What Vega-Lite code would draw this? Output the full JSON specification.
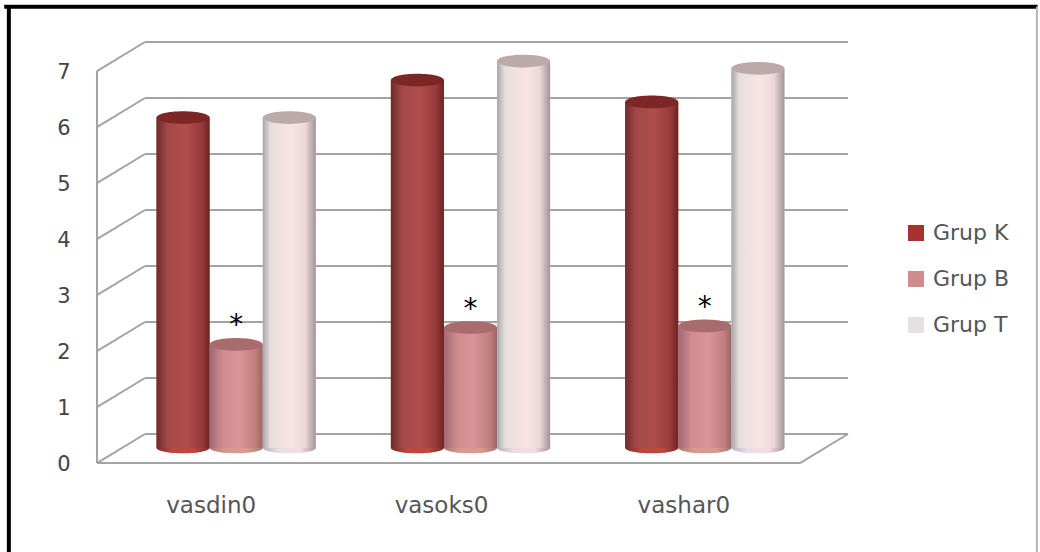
{
  "$schema": "https://vega.github.io/schema/vega-lite/v6.json",
  "width": 703,
  "height": 392,
  "autosize": "none",
  "padding": {"left": 119, "top": 56, "right": 218, "bottom": 104},
  "background": "white",
  "config": {"view": {"stroke": null}, "font": "DejaVu Sans"},
  "datasets": {
    "scores": [
      {"measure": "vasdin0", "group": "Grup K", "score": 5.9, "marked": false},
      {"measure": "vasdin0", "group": "Grup B", "score": 1.85, "marked": true},
      {"measure": "vasdin0", "group": "Grup T", "score": 5.9, "marked": false},
      {"measure": "vasoks0", "group": "Grup K", "score": 6.57, "marked": false},
      {"measure": "vasoks0", "group": "Grup B", "score": 2.15, "marked": true},
      {"measure": "vasoks0", "group": "Grup T", "score": 6.91, "marked": false},
      {"measure": "vashar0", "group": "Grup K", "score": 6.18, "marked": false},
      {"measure": "vashar0", "group": "Grup B", "score": 2.18, "marked": true},
      {"measure": "vashar0", "group": "Grup T", "score": 6.78, "marked": false}
    ],
    "walls": [
      {"part": "back", "x1": 0.111, "x2": 3.111, "y1": 0.25, "y2": 0.25},
      {"part": "back", "x1": 0.111, "x2": 3.111, "y1": 1.25, "y2": 1.25},
      {"part": "back", "x1": 0.111, "x2": 3.111, "y1": 2.25, "y2": 2.25},
      {"part": "back", "x1": 0.111, "x2": 3.111, "y1": 3.25, "y2": 3.25},
      {"part": "back", "x1": 0.111, "x2": 3.111, "y1": 4.25, "y2": 4.25},
      {"part": "back", "x1": 0.111, "x2": 3.111, "y1": 5.25, "y2": 5.25},
      {"part": "back", "x1": 0.111, "x2": 3.111, "y1": 6.25, "y2": 6.25},
      {"part": "back", "x1": 0.111, "x2": 3.111, "y1": 7.25, "y2": 7.25},
      {"part": "side", "x1": -0.094, "x2": 0.111, "y1": -0.27, "y2": 0.25},
      {"part": "side", "x1": -0.094, "x2": 0.111, "y1": 0.73, "y2": 1.25},
      {"part": "side", "x1": -0.094, "x2": 0.111, "y1": 1.73, "y2": 2.25},
      {"part": "side", "x1": -0.094, "x2": 0.111, "y1": 2.73, "y2": 3.25},
      {"part": "side", "x1": -0.094, "x2": 0.111, "y1": 3.73, "y2": 4.25},
      {"part": "side", "x1": -0.094, "x2": 0.111, "y1": 4.73, "y2": 5.25},
      {"part": "side", "x1": -0.094, "x2": 0.111, "y1": 5.73, "y2": 6.25},
      {"part": "side", "x1": -0.094, "x2": 0.111, "y1": 6.73, "y2": 7.25},
      {"part": "side", "x1": -0.094, "x2": -0.094, "y1": -0.27, "y2": 6.73},
      {"part": "side", "x1": 2.906, "x2": 3.111, "y1": -0.27, "y2": 0.25},
      {"part": "floor", "x1": -0.094, "x2": 2.906, "y1": -0.27, "y2": -0.27}
    ],
    "frame": [
      {"edge": "top", "x1": -0.49, "x2": 3.92, "y1": 7.88, "y2": 7.88},
      {"edge": "left", "x1": -0.47, "x2": -0.47, "y1": 7.91, "y2": -1.86}
    ],
    "frameRight": [
      {"edge": "right", "x1": 3.917, "x2": 3.917, "y1": 7.88, "y2": -1.86}
    ]
  },
  "resolve": {"scale": {"x": "independent"}},
  "layer": [
    {
      "data": {"name": "frame"},
      "mark": {"type": "rule", "stroke": "#000000", "strokeWidth": 4},
      "encoding": {
        "x": {"field": "x1", "type": "quantitative", "axis": null, "scale": {"domain": [0, 3], "nice": false, "zero": false}},
        "x2": {"field": "x2"},
        "y": {"field": "y1", "type": "quantitative", "scale": {"domain": [0, 7], "nice": false}},
        "y2": {"field": "y2"}
      }
    },
    {
      "data": {"name": "frameRight"},
      "mark": {"type": "rule", "stroke": "#b5b5b5", "strokeWidth": 2},
      "encoding": {
        "x": {"field": "x1", "type": "quantitative", "axis": null, "scale": {"domain": [0, 3], "nice": false, "zero": false}},
        "x2": {"field": "x2"},
        "y": {"field": "y1", "type": "quantitative", "scale": {"domain": [0, 7], "nice": false}},
        "y2": {"field": "y2"}
      }
    },
    {
      "data": {"name": "walls"},
      "mark": {"type": "rule", "stroke": "#a3a3a3", "strokeWidth": 2},
      "encoding": {
        "x": {"field": "x1", "type": "quantitative", "axis": null, "scale": {"domain": [0, 3], "nice": false, "zero": false}},
        "x2": {"field": "x2"},
        "y": {"field": "y1", "type": "quantitative", "scale": {"domain": [0, 7], "nice": false}},
        "y2": {"field": "y2"}
      }
    },
    {
      "data": {"name": "scores"},
      "encoding": {
        "x": {
          "field": "measure",
          "type": "nominal",
          "sort": ["vasdin0", "vasoks0", "vashar0"],
          "scale": {"type": "band", "domain": ["vasdin0", "vasoks0", "vashar0"], "paddingInner": 0.32, "paddingOuter": 0.16},
          "axis": {
            "title": null,
            "domain": false,
            "ticks": false,
            "labelAngle": 0,
            "labelFontSize": 23,
            "labelColor": "#555555",
            "labelPadding": 46,
            "labelOffset": {"expr": "datum.value === 'vasoks0' ? -29 : datum.value === 'vashar0' ? -21 : -25"}
          }
        },
        "xOffset": {
          "field": "group",
          "type": "nominal",
          "sort": ["Grup K", "Grup B", "Grup T"],
          "scale": {"type": "band", "domain": ["Grup K", "Grup B", "Grup T"]}
        },
        "y": {
          "field": "score",
          "type": "quantitative",
          "scale": {"domain": [0, 7], "nice": false},
          "axis": {"title": null, "domain": false, "ticks": false, "grid": false, "values": [0, 1, 2, 3, 4, 5, 6, 7], "format": "d", "labelFontSize": 21, "labelColor": "#444444", "labelPadding": 49, "labelOffset": 16}
        }
      },
      "layer": [
        {
          "mark": {"type": "bar", "width": 53},
          "encoding": {
            "color": {
              "field": "group",
              "type": "nominal",
              "sort": ["Grup K", "Grup B", "Grup T"],
              "scale": {"domain": ["Grup K", "Grup B", "Grup T"], "range": ["#a8322f", "#d08c8c", "#e6e0e0"]},
              "legend": {
                "title": null,
                "orient": "none",
                "legendX": 786,
                "legendY": 166,
                "symbolType": "square",
                "symbolSize": 256,
                "symbolStrokeWidth": 0,
                "labelFontSize": 22,
                "labelColor": "#555555",
                "labelOffset": 6,
                "rowPadding": 24,
                "clipHeight": 22
              }
            }
          }
        },
        {
          "transform": [{"filter": "datum.group === 'Grup K'"}],
          "mark": {
            "type": "point", "filled": true, "opacity": 1, "size": 2809,
            "shape": "M-1,0A1,0.2,0,1,1,1,0A1,0.2,0,1,1,-1,0Z",
            "fill": {"gradient": "linear", "x1": 0, "x2": 1, "y1": 0, "y2": 0, "stops": [
              {"offset": 0, "color": "#7a2c2a"},
              {"offset": 0.3, "color": "#b8493c"},
              {"offset": 0.7, "color": "#bc4a3c"},
              {"offset": 1, "color": "#7a2c2a"}
            ]}
          },
          "encoding": {"y": {"datum": 0, "type": "quantitative"}}
        },
        {
          "transform": [{"filter": "datum.group === 'Grup B'"}],
          "mark": {
            "type": "point", "filled": true, "opacity": 1, "size": 2809,
            "shape": "M-1,0A1,0.2,0,1,1,1,0A1,0.2,0,1,1,-1,0Z",
            "fill": {"gradient": "linear", "x1": 0, "x2": 1, "y1": 0, "y2": 0, "stops": [
              {"offset": 0, "color": "#a87a76"},
              {"offset": 0.3, "color": "#d99a8e"},
              {"offset": 0.7, "color": "#da9a8e"},
              {"offset": 1, "color": "#a87a76"}
            ]}
          },
          "encoding": {"y": {"datum": 0, "type": "quantitative"}}
        },
        {
          "transform": [{"filter": "datum.group === 'Grup T'"}],
          "mark": {
            "type": "point", "filled": true, "opacity": 1, "size": 2809,
            "shape": "M-1,0A1,0.2,0,1,1,1,0A1,0.2,0,1,1,-1,0Z",
            "fill": {"gradient": "linear", "x1": 0, "x2": 1, "y1": 0, "y2": 0, "stops": [
              {"offset": 0, "color": "#b8b4bc"},
              {"offset": 0.3, "color": "#e8dce6"},
              {"offset": 0.7, "color": "#f8dce0"},
              {"offset": 1, "color": "#a8969c"}
            ]}
          },
          "encoding": {"y": {"datum": 0, "type": "quantitative"}}
        },
        {
          "transform": [{"filter": "datum.group === 'Grup K'"}],
          "mark": {
            "type": "bar",
            "width": 53,
            "fill": {"gradient": "linear", "x1": 0, "x2": 1, "y1": 0, "y2": 0, "stops": [
              {"offset": 0, "color": "#6f2a2a"},
              {"offset": 0.2, "color": "#a24848"},
              {"offset": 0.55, "color": "#b04d4d"},
              {"offset": 0.85, "color": "#983a3a"},
              {"offset": 1, "color": "#6e2222"}
            ]}
          }
        },
        {
          "transform": [{"filter": "datum.group === 'Grup B'"}],
          "mark": {
            "type": "bar",
            "width": 53,
            "fill": {"gradient": "linear", "x1": 0, "x2": 1, "y1": 0, "y2": 0, "stops": [
              {"offset": 0, "color": "#a06a72"},
              {"offset": 0.25, "color": "#cf8b8e"},
              {"offset": 0.55, "color": "#d89698"},
              {"offset": 0.85, "color": "#c48080"},
              {"offset": 1, "color": "#9c6666"}
            ]}
          }
        },
        {
          "transform": [{"filter": "datum.group === 'Grup T'"}],
          "mark": {
            "type": "bar",
            "width": 53,
            "fill": {"gradient": "linear", "x1": 0, "x2": 1, "y1": 0, "y2": 0, "stops": [
              {"offset": 0, "color": "#a8a6a8"},
              {"offset": 0.15, "color": "#e8dede"},
              {"offset": 0.55, "color": "#f8e4e2"},
              {"offset": 0.8, "color": "#ecd8d8"},
              {"offset": 1, "color": "#a2959a"}
            ]}
          }
        },
        {
          "transform": [{"filter": "datum.group === 'Grup K'"}],
          "mark": {"type": "point", "filled": true, "opacity": 1, "fill": "#7c2626", "size": 2809, "shape": "M-1,0A1,0.24,0,1,1,1,0A1,0.24,0,1,1,-1,0Z"}
        },
        {
          "transform": [{"filter": "datum.group === 'Grup B'"}],
          "mark": {"type": "point", "filled": true, "opacity": 1, "fill": "#a96c6c", "size": 2809, "shape": "M-1,0A1,0.24,0,1,1,1,0A1,0.24,0,1,1,-1,0Z"}
        },
        {
          "transform": [{"filter": "datum.group === 'Grup T'"}],
          "mark": {"type": "point", "filled": true, "opacity": 1, "fill": "#bcaaaa", "size": 2809, "shape": "M-1,0A1,0.24,0,1,1,1,0A1,0.24,0,1,1,-1,0Z"}
        },
        {
          "transform": [{"filter": "datum.marked"}],
          "mark": {"type": "text", "text": "*", "font": "DejaVu Sans", "fontSize": 28, "color": "#000000", "baseline": "middle", "dy": -18}
        }
      ]
    }
  ]
}
